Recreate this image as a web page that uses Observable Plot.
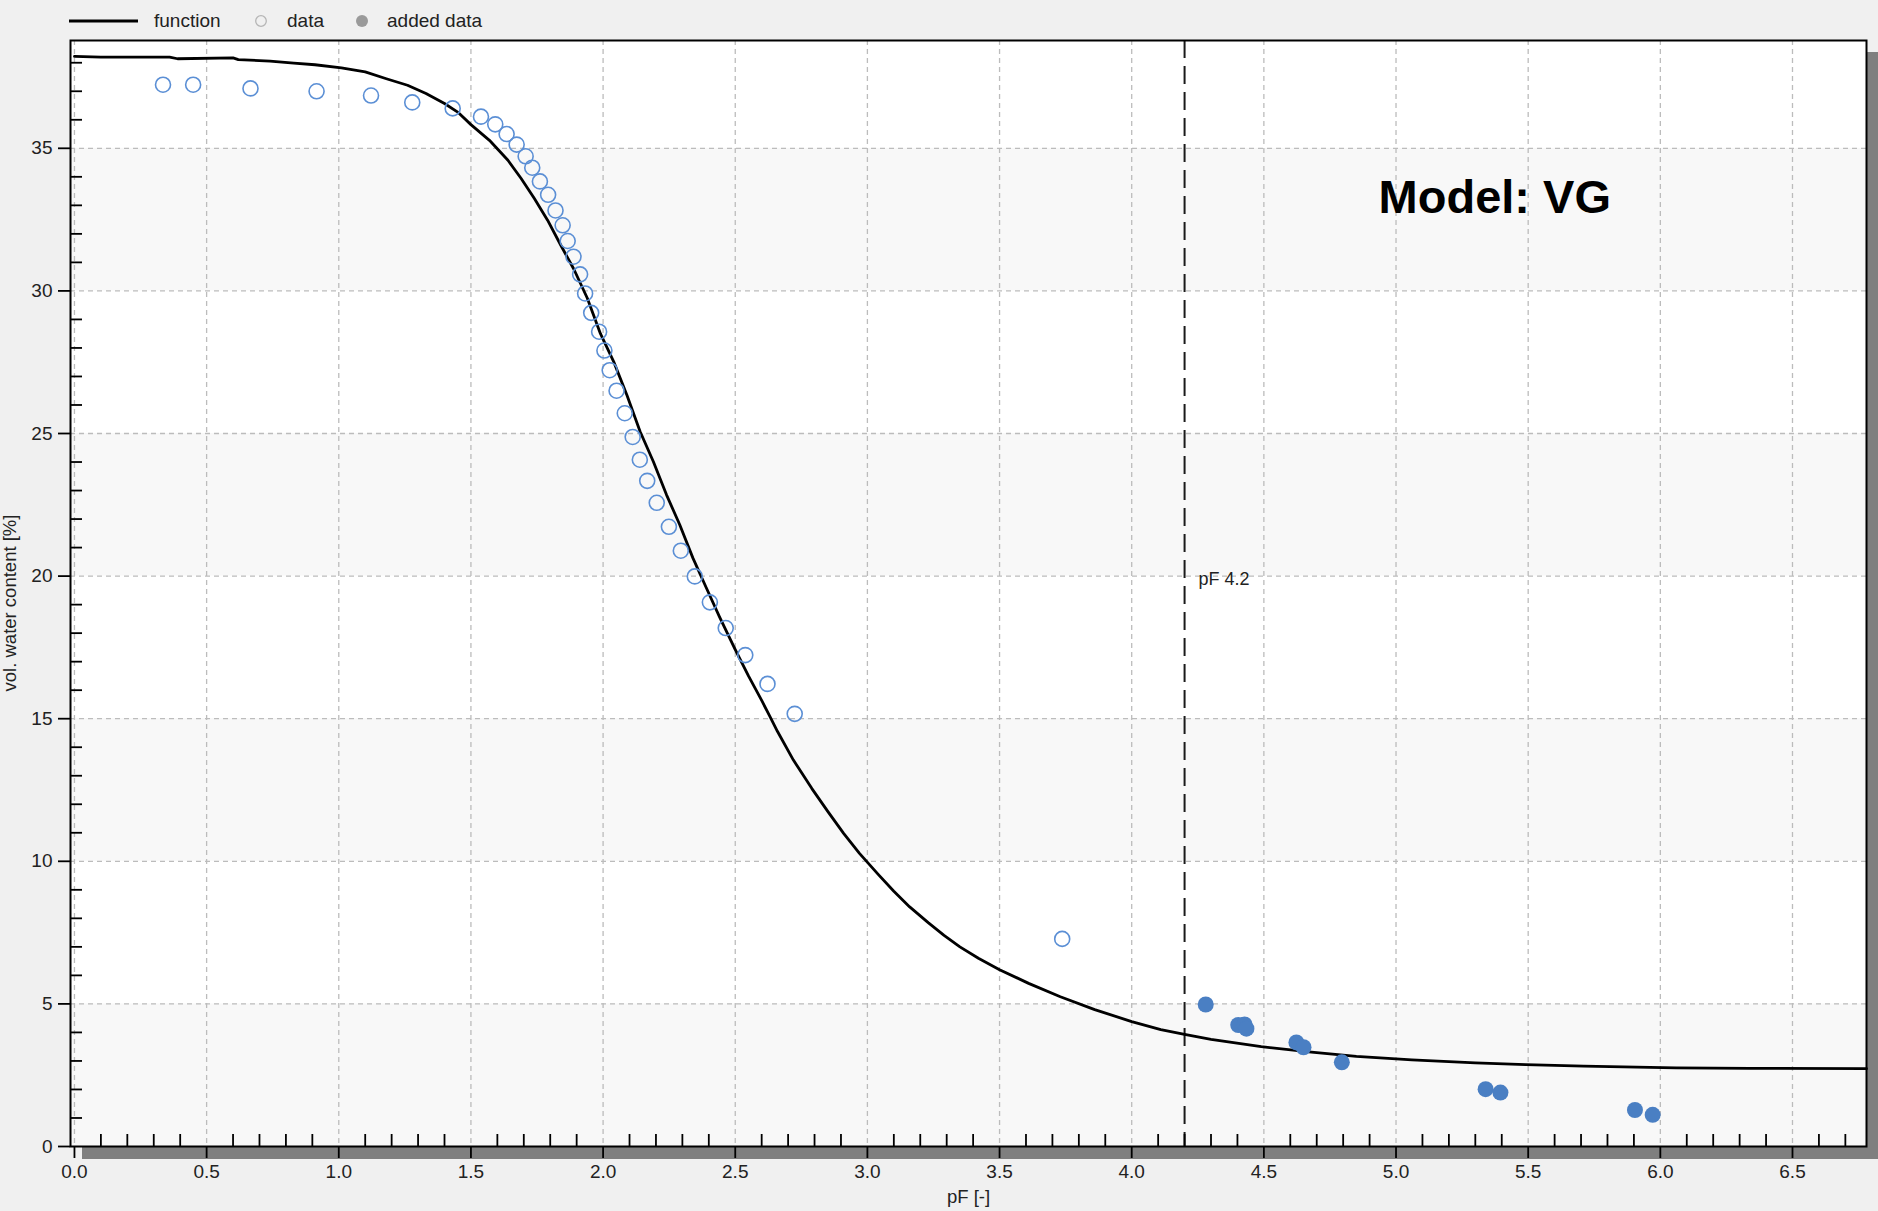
<!DOCTYPE html>
<html>
<head>
<meta charset="utf-8">
<script src="https://cdn.jsdelivr.net/npm/d3@7"></script>
<script src="https://cdn.jsdelivr.net/npm/@observablehq/plot@0.6"></script>
<style>
  html, body { margin: 0; padding: 0; background: #f0f0f0; width: 1878px; height: 1211px; overflow: hidden; }
  #wrap { position: relative; width: 1878px; height: 1211px; font-family: "Liberation Sans", Arial, sans-serif; color: #222; }
  .shadow { position: absolute; background: #7f7f7f; z-index: 0; }
  #chart { position: absolute; left: 0; top: 0; z-index: 1; }
  #legend { position: absolute; left: 0; top: 0; width: 600px; height: 40px; z-index: 2; font-size: 19px; }
  #legend .lab { position: absolute; top: 11px; line-height: 19px; white-space: nowrap; }
  #legend svg { position: absolute; overflow: visible; }
</style>
</head>
<body>
<div id="wrap">
  <div class="shadow" style="left:82px; top:1147px; width:1796px; height:12px;"></div>
  <div class="shadow" style="left:1867px; top:52px; width:11px; height:1107px;"></div>
  <div id="chart"></div>
  <div id="legend"></div>
</div>
<script>
// ---------- data ----------
const legendLabels = ["function", "data", "added data"];

const xTicks = [0.0, 0.5, 1.0, 1.5, 2.0, 2.5, 3.0, 3.5, 4.0, 4.5, 5.0, 5.5, 6.0, 6.5];
const yTicks = [0, 5, 10, 15, 20, 25, 30, 35];
const bandStarts = [0, 10, 20, 30];

const xTitle = "pF [-]";
const yTitle = "vol. water content [%]";

const refPF = 4.2;
const refLabel = "pF 4.2";
const refLabelVol = 19.9;

const modelLabel = "Model: VG";
const modelPF = 4.934;
const modelVol = 33.27;

// measured data (open circles)
const dataPF = [0.335,0.449,0.666,0.916,1.122,1.278,1.431,1.538,1.592,1.635,1.673,1.707,1.732,1.761,1.792,1.820,1.847,1.866,1.888,1.913,1.932,1.955,1.985,2.005,2.025,2.051,2.082,2.112,2.139,2.167,2.203,2.249,2.294,2.347,2.404,2.464,2.538,2.622,2.725,3.737];
const dataVol = [37.23,37.23,37.10,37.00,36.85,36.61,36.40,36.11,35.84,35.50,35.13,34.72,34.32,33.84,33.37,32.82,32.30,31.75,31.20,30.58,29.91,29.23,28.57,27.91,27.22,26.50,25.71,24.88,24.08,23.34,22.57,21.73,20.89,19.99,19.08,18.18,17.23,16.22,15.17,7.28];

// added data (filled circles)
const addedPF = [4.280,4.403,4.427,4.434,4.623,4.650,4.795,5.339,5.395,5.904,5.971];
const addedVol = [4.98,4.26,4.28,4.13,3.65,3.48,2.95,2.01,1.89,1.28,1.11];

// fitted function
const funcPF = [0.00,0.10,0.36,0.39,0.60,0.62,0.74,0.83,0.91,1.01,1.10,1.18,1.26,1.33,1.40,1.45,1.50,1.57,1.64,1.69,1.74,1.79,1.84,1.89,1.94,1.99,2.04,2.09,2.14,2.19,2.24,2.29,2.34,2.39,2.44,2.50,2.55,2.60,2.63,2.66,2.72,2.79,2.85,2.91,2.97,3.04,3.10,3.16,3.23,3.29,3.35,3.42,3.50,3.61,3.73,3.86,4.00,4.11,4.20,4.30,4.49,4.68,4.85,5.06,5.30,5.49,5.71,6.06,6.34,6.78];
const funcVol = [38.22,38.20,38.20,38.14,38.17,38.11,38.06,37.99,37.93,37.82,37.68,37.44,37.21,36.92,36.57,36.27,35.83,35.28,34.58,33.94,33.24,32.48,31.60,30.75,29.75,28.50,27.52,26.35,25.07,24.02,22.85,21.80,20.63,19.60,18.58,17.42,16.50,15.64,15.10,14.55,13.55,12.55,11.75,10.98,10.28,9.55,8.95,8.40,7.85,7.40,7.00,6.60,6.20,5.72,5.25,4.80,4.38,4.10,3.93,3.76,3.50,3.31,3.16,3.04,2.93,2.87,2.82,2.76,2.74,2.73];

// ---------- tables ----------
const funcRows = funcPF.map((x, i) => ({pF: x, vol: funcVol[i]}));
const dataRows = dataPF.map((x, i) => ({pF: x, vol: dataVol[i]}));
const addedRows = addedPF.map((x, i) => ({pF: x, vol: addedVol[i]}));

const xMinor = d3.range(1, 68).filter(i => i % 5 !== 0).map(i => i / 10);
const yMinor = d3.range(1, 39).filter(i => i % 5 !== 0);

const gridStyle = {stroke: "#bcbcbc", strokeOpacity: 1, strokeWidth: 1.3, strokeDasharray: "5,4"};
const font = "'Liberation Sans', Arial, sans-serif";

const chart = Plot.plot({
  width: 1878,
  height: 1211,
  marginLeft: 70,
  marginRight: 12,
  marginTop: 40,
  marginBottom: 65,
  style: {background: "transparent", fontFamily: font, fontSize: "19px", color: "#222", overflow: "visible"},
  x: {domain: [-0.015, 6.78], label: null},
  y: {domain: [0, 38.78], label: null},
  marks: [
    Plot.frame({fill: "#ffffff", stroke: null}),
    Plot.rect(bandStarts, {y1: d => d, y2: d => d + 5, fill: "#f8f8f8"}),
    Plot.gridX(xTicks, gridStyle),
    Plot.gridY(yTicks.filter(d => d > 0), gridStyle),
    Plot.ruleX([refPF], {stroke: "#1a1a1a", strokeWidth: 2, strokeDasharray: "18,8"}),
    Plot.text([refLabel], {x: refPF, y: refLabelVol, dx: 14, textAnchor: "start", fontSize: 18, fill: "#222"}),
    Plot.text([modelLabel], {x: modelPF, y: modelVol, textAnchor: "start", fontSize: 47, fontWeight: "bold", fill: "#000"}),
    Plot.line(funcRows, {x: "pF", y: "vol", stroke: "#000", strokeWidth: 2.8, curve: "linear"}),
    Plot.dot(dataRows, {x: "pF", y: "vol", r: 7.5, fill: "none", stroke: "#5b8fd5", strokeWidth: 1.6}),
    Plot.dot(addedRows, {x: "pF", y: "vol", r: 8, fill: "#4a7fc3", stroke: "none"}),
    Plot.axisX(xTicks, {anchor: "bottom", tickSize: 12, tickPadding: 6, strokeWidth: 1.8, stroke: "#000", fill: "#222", tickFormat: d3.format(".1f"), fontSize: 19, label: null}),
    Plot.axisX(xMinor, {anchor: "bottom", tickSize: -12, strokeWidth: 1.8, stroke: "#000", fill: "none", label: null}),
    Plot.axisY(yTicks, {anchor: "left", tickSize: 12, tickPadding: 6, strokeWidth: 1.8, stroke: "#000", fill: "#222", fontSize: 19, label: null}),
    Plot.axisY(yMinor, {anchor: "left", tickSize: -12, strokeWidth: 1.8, stroke: "#000", fill: "none", label: null}),
    Plot.frame({stroke: "#000", strokeWidth: 2}),
    Plot.text([xTitle], {frameAnchor: "bottom", textAnchor: "middle", lineAnchor: "middle", dy: 51, fontSize: 18.5, fill: "#222"}),
    Plot.text([yTitle], {frameAnchor: "left", textAnchor: "middle", lineAnchor: "middle", dx: -60, dy: 9.5, rotate: -90, fontSize: 18.5, fill: "#222"})
  ]
});
document.getElementById("chart").appendChild(chart);

// ---------- legend ----------
const legend = document.getElementById("legend");
legend.innerHTML = `
  <svg style="left:69px;top:19px" width="69" height="4"><line x1="0" y1="2" x2="69" y2="2" stroke="#000" stroke-width="3"/></svg>
  <span class="lab" style="left:154px">${legendLabels[0]}</span>
  <svg style="left:255px;top:15px" width="12" height="12"><circle cx="6" cy="6" r="5.3" fill="none" stroke="#b5b5b5" stroke-width="1.3"/></svg>
  <span class="lab" style="left:287px">${legendLabels[1]}</span>
  <svg style="left:356px;top:15px" width="12" height="12"><circle cx="6" cy="6" r="6" fill="#9a9a9a"/></svg>
  <span class="lab" style="left:387px">${legendLabels[2]}</span>
`;
</script>
</body>
</html>
